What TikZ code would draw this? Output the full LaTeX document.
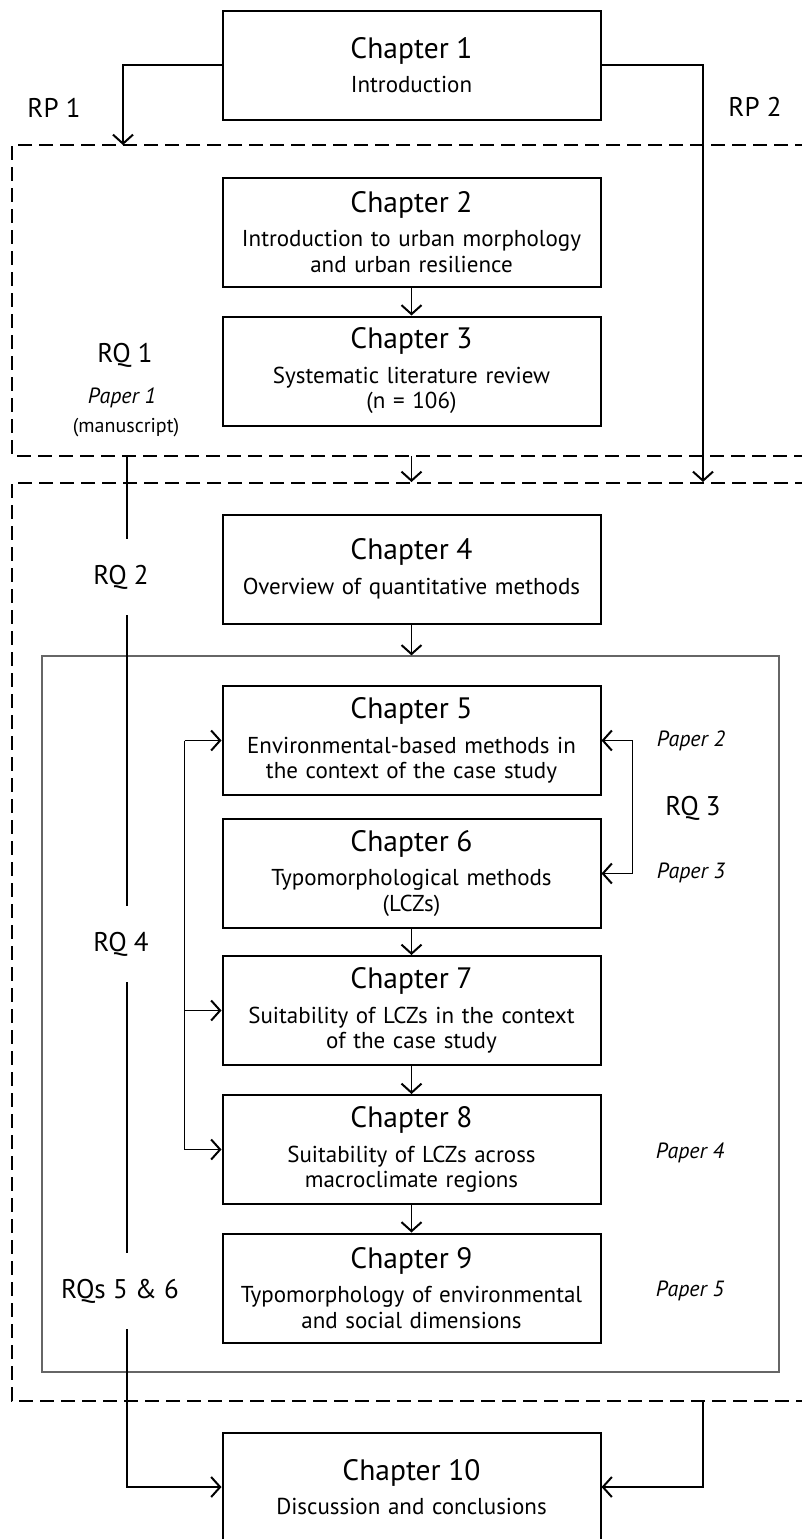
\documentclass[tikz,border=0pt]{standalone}
\usepackage{fontspec}
\setmainfont{PT Sans}
\usetikzlibrary{arrows.meta}

\newcommand{\chfont}{\fontsize{29.5}{34}\selectfont}
\newcommand{\subfont}{\fontsize{23}{25.5}\selectfont}
\newcommand{\rqfont}{\fontsize{27}{31}\selectfont}
\newcommand{\paperfont}{\fontsize{22}{26}\selectfont\itshape}

\begin{document}
\begin{tikzpicture}[x=1pt, y=-1pt,
    chapter/.style={draw, line width=2pt, minimum width=378pt, minimum height=109pt,
                text width=374pt, align=center, inner sep=0pt, font=\subfont},
    arrow/.style={-{Straight Barb[length=9pt,width=20pt,line width=2pt]}, line width=1.3pt},
    link/.style={line width=1.3pt},
    frame/.style={dash pattern=on 14pt off 7pt, line width=1.6pt},
    rqlabel/.style={font=\rqfont, inner sep=0pt, minimum height=76pt},
    paper/.style={font=\paperfont, inner sep=0pt}
]
    \useasboundingbox (0,0) rectangle (802,1539);

    % Chapters
    \node[chapter] (ch1)  at (411.5, 65)     {{\chfont Chapter 1}\\[9pt]Introduction};
    \node[chapter] (ch2)  at (411.5, 232)    {{\chfont Chapter 2}\\[9pt]Introduction to urban morphology\\and urban resilience};
    \node[chapter] (ch3)  at (411.5, 371)    {{\chfont Chapter 3}\\[9pt]Systematic literature review\\(n = 106)};
    \node[chapter] (ch4)  at (411.5, 569)    {{\chfont Chapter 4}\\[9pt]Overview of quantitative methods};
    \node[chapter] (ch5)  at (411.5, 740.5)  {{\chfont Chapter 5}\\[9pt]Environmental-based methods in\\the context of the case study};
    \node[chapter] (ch6)  at (411.5, 873.5)  {{\chfont Chapter 6}\\[9pt]Typomorphological methods\\(LCZs)};
    \node[chapter] (ch7)  at (411.5, 1010.5) {{\chfont Chapter 7}\\[9pt]Suitability of LCZs in the context\\of the case study};
    \node[chapter] (ch8)  at (411.5, 1149.5) {{\chfont Chapter 8}\\[9pt]Suitability of LCZs across\\macroclimate regions};
    \node[chapter] (ch9)  at (411.5, 1288)   {{\chfont Chapter 9}\\[9pt]Typomorphology of environmental\\and social dimensions};
    \node[chapter] (ch10) at (411.5, 1487)   {{\chfont Chapter 10}\\[9pt]Discussion and conclusions};

    % Frames
    \draw[frame] (830,145) -| (12,456) -- (830,456);
    \draw[frame] (830,483) -| (12,1401) -- (830,1401);
    \node[draw=black!60, line width=1.2pt, minimum width=737pt, minimum height=716pt, inner sep=0pt]
        (block) at (410.5, 1014) {};

    % Labels
    \node[font=\rqfont] (rp1) at (54, 108)  {RP 1};
    \node[font=\rqfont] (rp2) at (755, 107) {RP 2};
    \node[font=\rqfont] (rq1) at (125, 355) {RQ 1};
    \node[paper] (p1) at (122, 398) {Paper 1};
    \node[font=\fontsize{20}{24}\selectfont, inner sep=0pt] (ms) at (126, 428) {(manuscript)};
    \node[rqlabel] (rq2)  at (121, 577)  {RQ 2};
    \node[rqlabel] (rq4)  at (121, 944)  {RQ 4};
    \node[rqlabel] (rq56) at (120, 1291) {RQs 5 \& 6};
    \node[font=\rqfont] (rq3) at (693, 808) {RQ 3};
    \node[paper] (p2) at (691, 741)  {Paper 2};
    \node[paper] (p3) at (691, 873)  {Paper 3};
    \node[paper] (p4) at (690, 1153) {Paper 4};
    \node[paper] (p5) at (690, 1291) {Paper 5};

    % Ends on the frames
    \coordinate (rp1end) at (123, 145);
    \coordinate (rp2end) at (703, 482);
    \coordinate (f1out)  at (411.5, 456);
    \coordinate (f2in)   at (411.5, 482);
    \coordinate (rqtop)  at (127, 456);
    \coordinate (f2out)  at (703, 1401);

    % Arrows
    \draw[arrow] (ch1.west) -| (rp1end);
    \draw[arrow] (ch1.east) -| (rp2end);
    \draw[arrow] (ch2) -- (ch3);
    \draw[arrow] (f1out) -- (f2in);
    \draw[arrow] (ch4.south) -- (ch4.south |- block.north);
    \draw[arrow] (ch6) -- (ch7);
    \draw[arrow] (ch7) -- (ch8);
    \draw[arrow] (ch8) -- (ch9);

    \draw[link] ([xshift=-37pt]ch5.west) -- ([xshift=-37pt]ch8.west);
    \draw[arrow] ([xshift=-37pt]ch5.west) -- (ch5.west);
    \draw[arrow] ([xshift=-37pt]ch7.west) -- (ch7.west);
    \draw[arrow] ([xshift=-37pt]ch8.west) -- (ch8.west);

    \draw[link] ([xshift=31pt]ch5.east) -- ([xshift=31pt]ch6.east);
    \draw[arrow] ([xshift=31pt]ch5.east) -- (ch5.east);
    \draw[arrow] ([xshift=31pt]ch6.east) -- (ch6.east);

    \draw[link] (rqtop) -- (rqtop |- rq2.north);
    \draw[link] (rqtop |- rq2.south) -- (rqtop |- rq4.north);
    \draw[link] (rqtop |- rq4.south) -- (rqtop |- rq56.north);
    \draw[arrow] (rqtop |- rq56.south) |- (ch10.west);
    \draw[arrow] (f2out) |- (ch10.east);
\end{tikzpicture}
\end{document}
